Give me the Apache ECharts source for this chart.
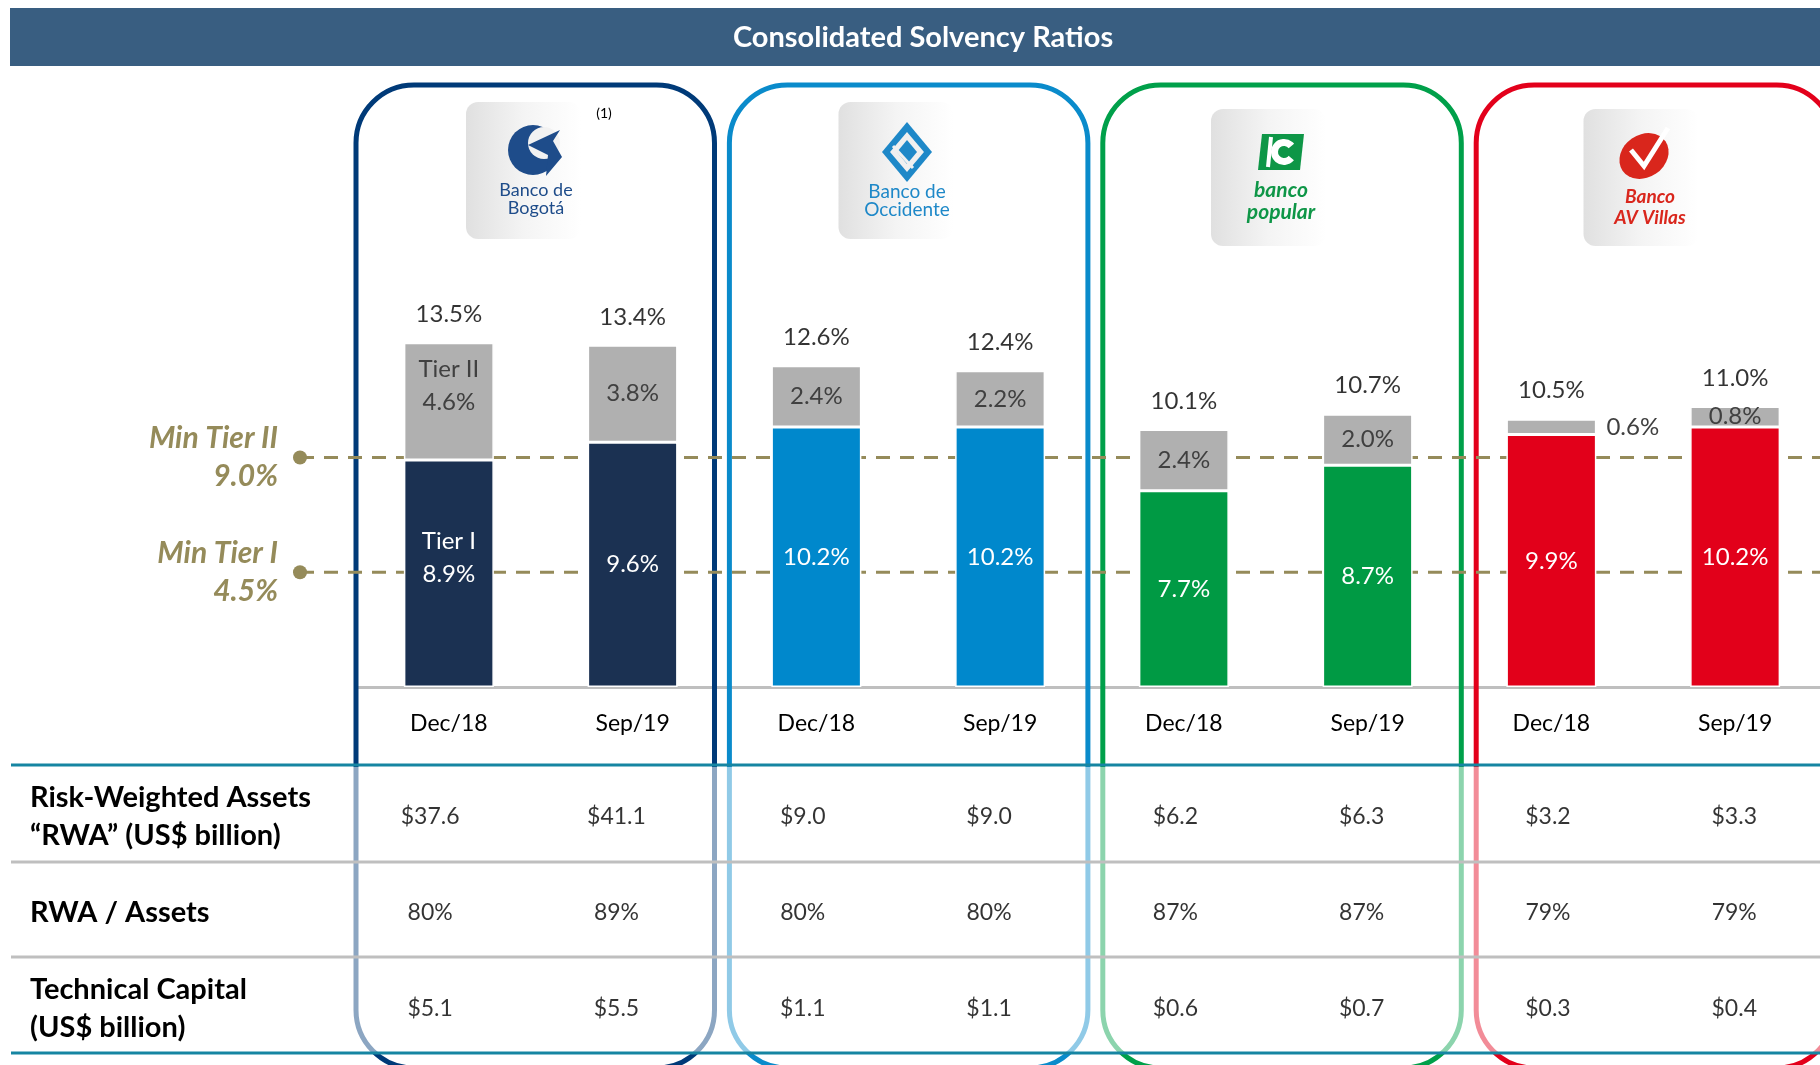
<!DOCTYPE html>
<html>
<head>
<meta charset="utf-8">
<title>Consolidated Solvency Ratios</title>
<script src="https://cdn.jsdelivr.net/npm/echarts@6/dist/echarts.min.js"></script>
<style>
    html, body { margin: 0; padding: 0; background: #fff; }
    #main { width: 1820px; height: 1065px; }
</style>
</head>
<body>
<div id="main"></div>
<script>
// data
const categories = ['Dec/18', 'Sep/19', 'Dec/18', 'Sep/19', 'Dec/18', 'Sep/19', 'Dec/18', 'Sep/19']
const banks = ['Banco de Bogotá', 'Banco de Occidente', 'Banco Popular', 'Banco AV Villas']
const tier1 = [8.9, 9.6, 10.2, 10.2, 7.7, 8.7, 9.9, 10.2]
const tier2 = [4.6, 3.8, 2.4, 2.2, 2.4, 2.0, 0.6, 0.8]
const totals = [13.5, 13.4, 12.6, 12.4, 10.1, 10.7, 10.5, 11.0]
const minLines = [['Min Tier II', 9.0], ['Min Tier I', 4.5]]
const rowLabels = ['Risk-Weighted Assets\n“RWA” (US$ billion)', 'RWA / Assets', 'Technical Capital\n(US$ billion)']
const rwa = [37.6, 41.1, 9.0, 9.0, 6.2, 6.3, 3.2, 3.3]
const rwaAssets = [80, 89, 80, 80, 87, 87, 79, 79]
const techCapital = [5.1, 5.5, 1.1, 1.1, 0.6, 0.7, 0.3, 0.4]

const barColors = ['#1B3152', '#0088CC', '#009A44', '#E2001A']
const boxColors = ['#003A78', '#0A8BCB', '#00A04A', '#E3001B']
const gold = '#958B5A'
const font = 'Lato'

function cell(r, i) {
    if (r === 0) return '$' + rwa[i].toFixed(1)
    if (r === 1) return rwaAssets[i] + '%'
    return '$' + techCapital[i].toFixed(1)
}

var chartDom = document.getElementById('main')
var myChart = echarts.init(chartDom)

// decoration: title bar, bank frames, logos, table rules
let elements = []
elements.push({ type: 'rect', z: 1, shape: { x: 10, y: 8, width: 1810, height: 58 }, style: { fill: '#395E81' } })
elements.push({ type: 'text', z: 2, x: 923, y: 38, style: { text: 'Consolidated Solvency Ratios', fill: '#fff', font: 'bold 29px ' + font, textAlign: 'center', textVerticalAlign: 'middle' } })

boxColors.forEach(function (c, k) {
    elements.push({ type: 'rect', z: 1, shape: { x: 356 + k * 373.4, y: 85, width: 358.5, height: 983, r: 58 }, style: { fill: 'none', stroke: c, lineWidth: 5 } })
    let tx = 466 + k * 372.5
    let ty = k < 2 ? 102 : 109
    elements.push({
        type: 'rect', z: 1, shape: { x: tx, y: ty, width: 115, height: 137, r: 12 },
        style: { fill: new echarts.graphic.LinearGradient(0, 0, 1, 0, [{ offset: 0, color: '#e0e0e0' }, { offset: 0.5, color: '#f4f4f4' }, { offset: 1, color: '#ffffff' }]) }
    })
})

// Bogota logo
elements.push({ type: 'circle', z: 2, shape: { cx: 533, cy: 150, r: 25 }, style: { fill: '#1E4C8A' } })
elements.push({ type: 'circle', z: 2, shape: { cx: 544, cy: 143, r: 16 }, style: { fill: '#f2f2f2' } })
elements.push({ type: 'polygon', z: 2, shape: { points: [[528, 145], [560, 130], [553, 141], [562, 157], [546, 176], [548, 155]] }, style: { fill: '#1E4C8A' } })
elements.push({ type: 'text', z: 2, x: 536, y: 199, style: { text: 'Banco de\nBogotá', fill: '#1E4C8A', font: '18px ' + font, textAlign: 'center', textVerticalAlign: 'middle', lineHeight: 18 } })
elements.push({ type: 'text', z: 2, x: 604, y: 113, style: { text: '(1)', fill: '#000', font: '14px ' + font, textAlign: 'center', textVerticalAlign: 'middle' } })

// Occidente logo
elements.push({ type: 'polygon', z: 2, shape: { points: [[907, 122], [932, 152], [907, 182], [882, 152]] }, style: { fill: '#1E88C8' } })
elements.push({ type: 'polygon', z: 2, shape: { points: [[907, 132], [924, 152], [907, 172], [890, 152]] }, style: { fill: '#f0f0f0' } })
elements.push({ type: 'polygon', z: 2, shape: { points: [[907, 140], [917, 152], [907, 164], [897, 152]] }, style: { fill: '#1E88C8' } })
elements.push({ type: 'line', z: 2, shape: { x1: 893, y1: 146, x2: 913, y2: 168 }, style: { stroke: '#f0f0f0', lineWidth: 3 } })
elements.push({ type: 'text', z: 2, x: 907, y: 201, style: { text: 'Banco de\nOccidente', fill: '#1E88C8', font: '19px ' + font, textAlign: 'center', textVerticalAlign: 'middle', lineHeight: 18 } })

// Popular logo
elements.push({ type: 'polygon', z: 2, shape: { points: [[1262, 134], [1304, 134], [1300, 170], [1258, 170]] }, style: { fill: '#0E9647' } })
elements.push({ type: 'sector', z: 2, shape: { cx: 1284, cy: 152, r0: 6, r: 13, startAngle: 0.7, endAngle: 5.6 }, style: { fill: '#fff' } })
elements.push({ type: 'line', z: 2, shape: { x1: 1271, y1: 137, x2: 1268, y2: 167 }, style: { stroke: '#fff', lineWidth: 4 } })
elements.push({ type: 'text', z: 2, x: 1281, y: 201, style: { text: 'banco\npopular', fill: '#0E9647', font: 'italic bold 21px ' + font, textAlign: 'center', textVerticalAlign: 'middle', lineHeight: 22 } })

// AV Villas logo
elements.push({ type: 'circle', z: 2, x: 1644, y: 156, scaleY: 0.82, rotation: 0.6, shape: { cx: 0, cy: 0, r: 26 }, style: { fill: '#D9261C' } })
elements.push({ type: 'polyline', z: 2, shape: { points: [[1631, 150], [1644, 166], [1668, 128]] }, style: { stroke: '#fff', lineWidth: 5, fill: 'none' } })
elements.push({ type: 'text', z: 2, x: 1650, y: 207, style: { text: 'Banco\nAV Villas', fill: '#D9261C', font: 'italic bold 19px ' + font, textAlign: 'center', textVerticalAlign: 'middle', lineHeight: 21 } })

// table: faded frame part + rules
elements.push({ type: 'rect', z: 3, shape: { x: 340, y: 767, width: 1480, height: 285 }, style: { fill: 'rgba(255,255,255,0.55)' } })
;[[765, '#1685A2'], [862, '#BFBFBF'], [957, '#BFBFBF'], [1053, '#1685A2']].forEach(function (l) {
    elements.push({ type: 'line', z: 4, shape: { x1: 11, y1: l[0], x2: 1820, y2: l[0] }, style: { stroke: l[1], lineWidth: 3 } })
})

// series data
let tier1Data = tier1.map(function (v, i) {
    let item = { value: v, itemStyle: { color: barColors[Math.floor(i / 2)] } }
    if (i === 0) item.label = { offset: [0, -16] }
    return item
})
let tier2Data = tier2.map(function (v, i) {
    let item = { value: v }
    if (i === 0) item.label = { offset: [0, -16] }
    if (i === 6) item.label = { position: 'right', distance: 10 }
    return item
})
let tableData = []
rowLabels.forEach(function (r, ri) {
    categories.forEach(function (c, ci) {
        tableData.push([ci, ri])
    })
})

let refSeries = minLines.map(function (m) {
    return {
        type: 'line',
        xAxisIndex: 1,
        yAxisIndex: 1,
        z: 1,
        silent: true,
        data: [
            {
                value: [0, m[1]], symbol: 'circle', symbolSize: 14,
                label: {
                    show: true, position: 'left', distance: 15, align: 'right',
                    formatter: m[0] + '\n' + m[1].toFixed(1) + '%',
                    color: gold, fontSize: 30, fontWeight: 'bold', fontStyle: 'italic', fontFamily: font, lineHeight: 38
                }
            },
            { value: [1, m[1]], symbol: 'none' }
        ],
        itemStyle: { color: gold },
        lineStyle: { color: gold, width: 3, type: [14, 10] }
    }
})

var option = {
    animation: false,
    textStyle: { fontFamily: font },
    graphic: { elements: elements },
    grid: [
        { left: 357, top: 279, width: 1470, height: 408, outerBoundsMode: 'none' },
        { left: 300, right: 0, top: 279, height: 408, outerBoundsMode: 'none' },
        { left: 337, top: 769, width: 1490.4, height: 288, outerBoundsMode: 'none' }
    ],
    xAxis: [
        {
            type: 'category', gridIndex: 0, data: categories,
            axisLine: { lineStyle: { color: '#BFBFBF', width: 3 } },
            axisTick: { show: false },
            axisLabel: { color: '#000', fontSize: 23, margin: 25, fontFamily: font }
        },
        { type: 'value', gridIndex: 1, min: 0, max: 1, show: false },
        { type: 'category', gridIndex: 2, data: categories, show: false }
    ],
    yAxis: [
        { type: 'value', gridIndex: 0, min: 0, max: 16, show: false },
        { type: 'value', gridIndex: 1, min: 0, max: 16, show: false },
        {
            type: 'category', gridIndex: 2, data: rowLabels, inverse: true, z: 5,
            axisLine: { show: false }, axisTick: { show: false }, splitLine: { show: false },
            axisLabel: { align: 'left', margin: 307, color: '#000', fontSize: 29, fontWeight: 'bold', lineHeight: 38, fontFamily: font }
        }
    ],
    series: refSeries.concat([
        {
            name: 'Tier I',
            type: 'bar',
            stack: 'solvency',
            barWidth: 90,
            data: tier1Data,
            itemStyle: { borderColor: '#fff', borderWidth: 1.5 },
            label: {
                show: true, position: 'inside', color: '#fff', fontSize: 24, lineHeight: 33, fontFamily: font,
                formatter: function (p) {
                    return (p.dataIndex === 0 ? 'Tier I\n' : '') + p.value.toFixed(1) + '%'
                }
            }
        },
        {
            name: 'Tier II',
            type: 'bar',
            stack: 'solvency',
            barWidth: 90,
            data: tier2Data,
            itemStyle: { color: '#B0B0B0', borderColor: '#fff', borderWidth: 1.5 },
            label: {
                show: true, position: 'inside', color: '#404040', fontSize: 24, lineHeight: 33, fontFamily: font,
                formatter: function (p) {
                    return (p.dataIndex === 0 ? 'Tier II\n' : '') + p.value.toFixed(1) + '%'
                }
            }
        },
        {
            name: 'Total',
            type: 'scatter',
            data: totals,
            symbolSize: 1,
            itemStyle: { color: 'transparent' },
            silent: true,
            label: {
                show: true, position: 'top', distance: 16, color: '#000', fontSize: 24, fontFamily: font,
                formatter: function (p) { return p.value.toFixed(1) + '%' }
            }
        },
        {
            name: 'Table',
            type: 'scatter',
            xAxisIndex: 2,
            yAxisIndex: 2,
            z: 5,
            data: tableData,
            symbolSize: 1,
            itemStyle: { color: 'transparent' },
            silent: true,
            label: {
                show: true, position: 'inside', color: '#000', fontSize: 23, fontFamily: font,
                formatter: function (p) { return cell(p.value[1], p.value[0]) }
            }
        }
    ])
}
option && myChart.setOption(option)
</script>
</body>
</html>
